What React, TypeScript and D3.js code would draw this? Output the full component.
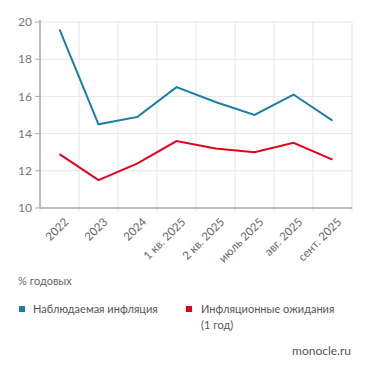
import { useEffect, useRef } from "react";
import * as d3 from "d3";

const categories = ["2022", "2023", "2024", "1 кв. 2025", "2 кв. 2025", "июль 2025", "авг. 2025", "сент. 2025"];
const observed = [19.6, 14.5, 14.9, 16.5, 15.7, 15.0, 16.1, 14.7];
const expected = [12.9, 11.5, 12.4, 13.6, 13.2, 13.0, 13.5, 12.6];
const yTicks = [10, 12, 14, 16, 18, 20];

const BLUE = "#1b7fa3";
const RED = "#e2001a";
const FONT = "Lato, 'Open Sans', sans-serif";

export default function App() {
  const svgRef = useRef<SVGSVGElement>(null);

  useEffect(() => {
    const width = 371, height = 371;
    const margin = { top: 22, right: 19, bottom: 163, left: 40 };
    const wt = width - margin.left - margin.right;
    const ht = height - margin.top - margin.bottom;

    d3.select(svgRef.current).selectAll("*").remove();
    const root = d3.select(svgRef.current).attr("width", width).attr("height", height);
    const svg = root.append("g").attr("transform", `translate(${margin.left},${margin.top})`);

    const x = d3.scaleBand().domain(categories).range([0, wt]);
    const y = d3.scaleLinear().domain([10, 20]).range([ht, 0]);

    // grid
    svg.append("g")
      .selectAll("line.h")
      .data(yTicks)
      .join("line")
        .attr("x1", 0).attr("x2", wt)
        .attr("y1", d => y(d)).attr("y2", d => y(d))
        .attr("stroke", "#e6e6e6");
    const bounds = categories.map(c => x(c)!).concat([wt]);
    svg.append("g")
      .selectAll("line")
      .data(bounds)
      .join("line")
        .attr("x1", d => d).attr("x2", d => d)
        .attr("y1", 0).attr("y2", ht + 4)
        .attr("stroke", "#e6e6e6");

    // y axis
    svg.append("line").attr("x1", 0).attr("x2", 0).attr("y1", -2).attr("y2", ht).attr("stroke", "#aaa").attr("stroke-width", 1.5);
    svg.append("g")
      .selectAll("text")
      .data(yTicks)
      .join("text")
        .attr("x", -8).attr("y", d => y(d)).attr("dy", "0.35em")
        .attr("text-anchor", "end")
        .attr("fill", "#777").style("font-size", "12px").style("font-family", FONT)
        .text(d => d);
    svg.append("g")
      .selectAll("line")
      .data(yTicks)
      .join("line")
        .attr("x1", -5).attr("x2", 0).attr("y1", d => y(d)).attr("y2", d => y(d))
        .attr("stroke", "#aaa");

    // x axis
    svg.append("line").attr("x1", 0).attr("x2", wt).attr("y1", ht).attr("y2", ht).attr("stroke", "#aaa").attr("stroke-width", 1.5);
    svg.append("g")
      .selectAll("text")
      .data(categories)
      .join("text")
        .attr("transform", d => `translate(${x(d)! + x.bandwidth() / 2 + 4},${ht + 9}) rotate(-45)`)
        .attr("text-anchor", "end").attr("dy", "0.7em")
        .attr("fill", "#666").style("font-size", "11.5px").style("font-family", FONT)
        .text(d => d);

    const line = d3.line<number>()
      .x((_, i) => x(categories[i])! + x.bandwidth() / 2)
      .y(d => y(d));

    svg.append("path").datum(observed).attr("d", line).attr("fill", "none").attr("stroke", BLUE).attr("stroke-width", 2);
    svg.append("path").datum(expected).attr("d", line).attr("fill", "none").attr("stroke", RED).attr("stroke-width", 2);

    // notes and legend
    const txt = (xx: number, yy: number, s: string, anchor = "start", color = "#555", size = 11) =>
      root.append("text").attr("x", xx).attr("y", yy).attr("text-anchor", anchor)
        .attr("fill", color).style("font-size", `${size}px`).style("font-family", FONT).text(s);

    txt(18, 285, "% годовых", "start", "#666", 11);
    root.append("rect").attr("x", 19).attr("y", 306).attr("width", 6).attr("height", 6).attr("fill", BLUE);
    txt(33, 313, "Наблюдаемая инфляция");
    root.append("rect").attr("x", 186).attr("y", 306).attr("width", 6).attr("height", 6).attr("fill", RED);
    txt(201, 313, "Инфляционные ожидания");
    txt(201, 329, "(1 год)");
    txt(351, 355, "monocle.ru", "end", "#555", 12);
  }, []);

  return <svg ref={svgRef} style={{ position: "absolute", left: 0, top: 0 }}></svg>;
}
